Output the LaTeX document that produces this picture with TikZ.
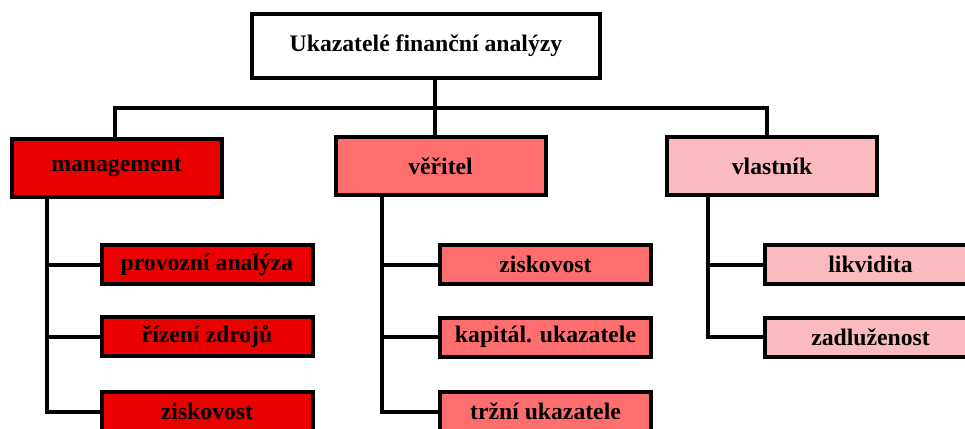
\documentclass[tikz,border=0pt]{standalone}
\usepackage{fontspec}
\setmainfont{Liberation Serif}
\definecolor{cmgmt}{RGB}{235,0,0}
\definecolor{cver}{RGB}{255,110,110}
\definecolor{cvl}{RGB}{250,186,190}
\begin{document}
\begin{tikzpicture}[x=1pt,y=-1pt,
  box/.style={draw=black,line width=4pt,rectangle,inner sep=0pt,
    font=\fontsize{23.7}{28}\selectfont\bfseries,text=black},
  headbox/.style={box,fill=white,minimum width=348pt,minimum height=64pt},
  lvlbox/.style={box,minimum width=210pt,minimum height=58pt},
  childbox/.style={box,minimum width=211pt,minimum height=39pt},
  conn/.style={line width=4pt,line cap=rect}]
\useasboundingbox (0,0) rectangle (965,428);
\clip (0,0) rectangle (965,428);
% head
\node[headbox] (top) at (426,46) {Ukazatelé finanční analýzy};
% level 1
\node[lvlbox,fill=cmgmt] (mg) at (116.5,167.5) {management};
\node[lvlbox,fill=cver] (ve) at (440.5,166) {věřitel};
\node[lvlbox,fill=cvl] (vl) at (772,166) {vlastník};
% children
\node[childbox,fill=cmgmt] (m1) at (207,264.5) {provozní analýza};
\node[childbox,fill=cmgmt] (m2) at (207,336.5) {řízení zdrojů};
\node[childbox,fill=cmgmt] (m3) at (207,411.5) {ziskovost};
\node[childbox,fill=cver] (v1) at (545.5,264.5) {ziskovost};
\node[childbox,fill=cver] (v2) at (545.5,337) {kapitál. ukazatele};
\node[childbox,fill=cver] (v3) at (545.5,411.5) {tržní ukazatele};
\node[childbox,fill=cvl] (o1) at (870.5,264.5) {likvidita};
\node[childbox,fill=cvl] (o2) at (870.5,337) {zadluženost};
% bus coordinates
\coordinate (bus) at (435,108);
\coordinate (mgtop) at (115,135);
\coordinate (vetop) at (435,133);
\coordinate (vltop) at (767,133);
\coordinate (msp) at (47,200);
\coordinate (vsp) at (382,200);
\coordinate (osp) at (708,200);
% connectors
\draw[conn] (top.south -| bus) -- (bus);
\draw[conn] (mgtop) |- (bus) -| (vltop);
\draw[conn] (bus) -- (vetop);
\draw[conn] (mg.south -| msp) |- (m1.west);
\draw[conn] (mg.south -| msp) |- (m2.west);
\draw[conn] (mg.south -| msp) |- (m3.west);
\draw[conn] (ve.south -| vsp) |- (v1.west);
\draw[conn] (ve.south -| vsp) |- (v2.west);
\draw[conn] (ve.south -| vsp) |- (v3.west);
\draw[conn] (vl.south -| osp) |- (o1.west);
\draw[conn] (vl.south -| osp) |- (o2.west);
\end{tikzpicture}
\end{document}
